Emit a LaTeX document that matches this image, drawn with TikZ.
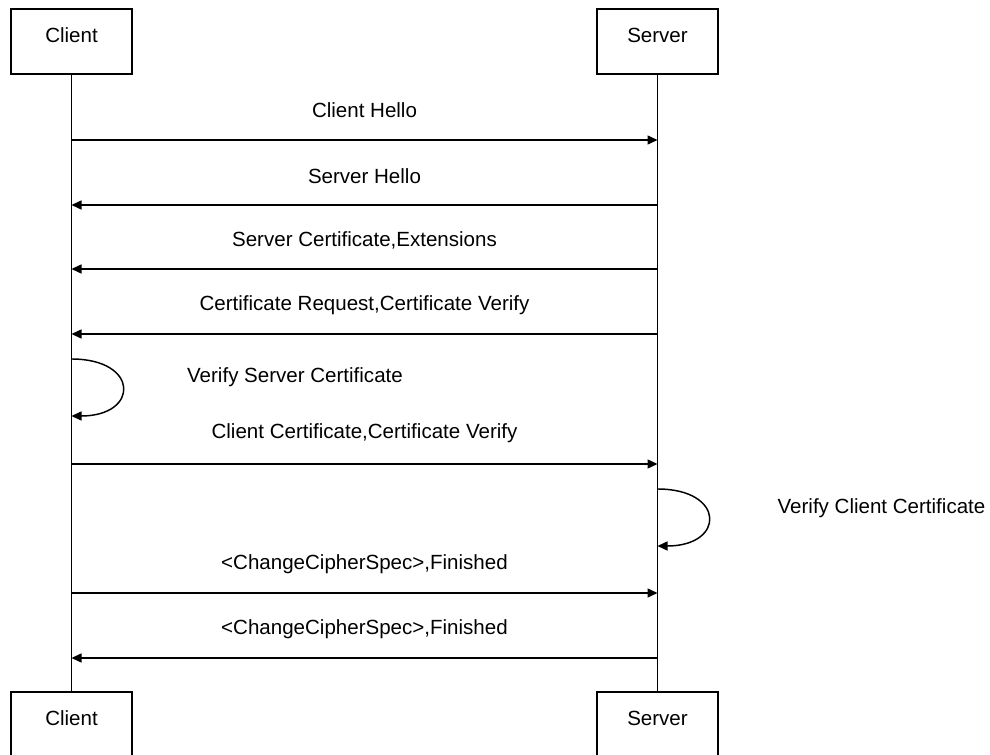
\documentclass[tikz,border=0pt]{standalone}
\usepackage{fontspec}
\setmainfont{Liberation Sans}
\usetikzlibrary{arrows.meta}

\tikzset{every picture/.style={line width=1.1pt}}
\tikzset{
	actor/.style={draw, rectangle, minimum width=90.75pt, inner xsep=0pt, inner ysep=0pt,
		text height=25pt, text depth=23.75pt, font=\fontsize{15.4}{18}\selectfont},
	msg/.style={-{Triangle[length=7.5pt,width=6.75pt]}},
	lbl/.style={inner sep=0.75pt, font=\fontsize{15.4}{18}\selectfont}
}

\begin{document}
\begin{tikzpicture}[x=0.75pt,y=0.75pt,yscale=-1,xscale=1]
		\useasboundingbox (0,0) rectangle (990,755);
		
		%Actors top
		\node[actor] (ctop) at (71.5,41.5) {Client};
		\node[actor] (stop) at (657.5,41.5) {Server};
		%Actors bottom
		\node[actor] (cbot) at (71.5,724.5) {Client};
		\node[actor] (sbot) at (657.5,724.5) {Server};
		
		%Lifelines
		\draw (ctop.south) -- (cbot.north);
		\draw (stop.south) -- (sbot.north);
		
		%Points on the lifelines
		\coordinate (c1) at (71.5,140);  \coordinate (s1) at (657.5,140);
		\coordinate (c2) at (71.5,205);  \coordinate (s2) at (657.5,205);
		\coordinate (c3) at (71.5,269);  \coordinate (s3) at (657.5,269);
		\coordinate (c4) at (71.5,334);  \coordinate (s4) at (657.5,334);
		\coordinate (cl1) at (71.5,359); \coordinate (cl2) at (71.5,416);
		\coordinate (c5) at (71.5,464);  \coordinate (s5) at (657.5,464);
		\coordinate (sl1) at (657.5,489); \coordinate (sl2) at (657.5,546);
		\coordinate (c6) at (71.5,593);  \coordinate (s6) at (657.5,593);
		\coordinate (c7) at (71.5,658);  \coordinate (s7) at (657.5,658);
		
		%Messages
		\draw[msg] (c1) -- (s1);
		\draw[msg] (s2) -- (c2);
		\draw[msg] (s3) -- (c3);
		\draw[msg] (s4) -- (c4);
		\draw[msg] (cl1) .. controls +(68,0) and +(68,0) .. (cl2);
		\draw[msg] (c5) -- (s5);
		\draw[msg] (sl1) .. controls +(68,0) and +(68,0) .. (sl2);
		\draw[msg] (c6) -- (s6);
		\draw[msg] (s7) -- (c7);
		
		%Labels
		\node[lbl] (l1) at (364.5,110) {Client Hello};
		\node[lbl] (l2) at (364.5,176) {Server Hello};
		\node[lbl] (l3) at (364.5,240) {Server Certificate,Extensions};
		\node[lbl] (l4) at (364.5,305) {Certificate Request,Certificate Verify};
		\node[lbl] (l5) at (295,377) {Verify Server Certificate};
		\node[lbl] (l6) at (364.5,433) {Client Certificate,Certificate Verify};
		\node[lbl] (l7) at (881.5,508) {Verify Client Certificate};
		\node[lbl] (l8) at (364.5,564) {<ChangeCipherSpec>,Finished};
		\node[lbl] (l9) at (364.5,629) {<ChangeCipherSpec>,Finished};
		
\end{tikzpicture}
\end{document}
